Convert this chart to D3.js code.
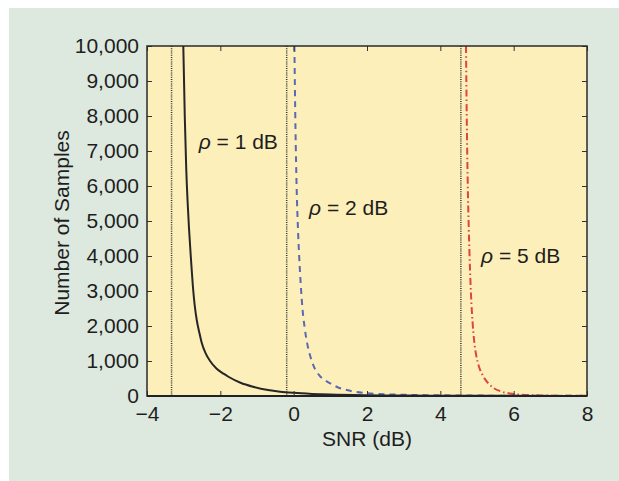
<!DOCTYPE html>
<html>
<head>
<meta charset="utf-8">
<script src="https://cdn.jsdelivr.net/npm/d3@7"></script>
<style>
  body { margin: 0; background: #fff; }
  svg { display: block; font-family: "Liberation Sans", Arial, sans-serif; }
</style>
</head>
<body>
<script>
// values
const snrBlack = [-3.01, -2.97, -2.93, -2.89, -2.855, -2.80, -2.75, -2.70, -2.64, -2.57, -2.51, -2.40, -2.28, -2.10, -1.90, -1.78, -1.45, -1.11, -0.70, -0.37, 0, 0.5, 1, 2, 3, 4, 6, 8]
const nBlack   = [10000, 8000, 6500, 5500, 4800, 3900, 3150, 2600, 2150, 1800, 1530, 1220, 1000, 780, 630, 550, 380, 266, 170, 123, 90, 60, 40, 20, 12, 8, 4, 2]

const snrBlue = [0.02, 0.05, 0.08, 0.12, 0.17, 0.24, 0.30, 0.36, 0.45, 0.54, 0.70, 0.85, 1.0, 1.2, 1.45, 1.7, 2.0, 2.5, 3, 4, 5, 6, 8]
const nBlue   = [10000, 7600, 6000, 4700, 3600, 2500, 1950, 1550, 1150, 870, 590, 450, 360, 250, 170, 115, 80, 50, 35, 20, 12, 8, 4]

const snrRed = [4.70, 4.72, 4.745, 4.775, 4.81, 4.85, 4.88, 4.92, 4.98, 5.05, 5.15, 5.31, 5.45, 5.67, 5.9, 6.22, 6.6, 7, 7.5, 8]
const nRed   = [10000, 8000, 6200, 4800, 3600, 2600, 2100, 1600, 1150, 850, 600, 360, 230, 125, 70, 35, 20, 12, 8, 5]

// SNR walls (dotted verticals)
const walls = [-3.33, -0.19, 4.56]
const rhoLabels = ['1', '2', '5']

const xTicks = [-4, -2, 0, 2, 4, 6, 8]
const yTicks = [0, 1000, 2000, 3000, 4000, 5000, 6000, 7000, 8000, 9000, 10000]

const W = 619, H = 481
const m = { left: 147, right: 587, top: 46, bottom: 396 }

const svg = d3.select('body').append('svg')
    .attr('width', W)
    .attr('height', H)

svg.append('rect')
    .attr('x', 9).attr('y', 8)
    .attr('width', W - 9).attr('height', H - 8)
    .attr('fill', '#dde9de')

const x = d3.scaleLinear().domain([-4, 8]).range([m.left, m.right])
const y = d3.scaleLinear().domain([0, 10000]).range([m.bottom, m.top])

svg.append('rect')
    .attr('x', m.left).attr('y', m.top)
    .attr('width', m.right - m.left).attr('height', m.bottom - m.top)
    .attr('fill', '#fcefb9')

svg.append('clipPath').attr('id', 'clip')
  .append('rect')
    .attr('x', m.left).attr('y', m.top)
    .attr('width', m.right - m.left).attr('height', m.bottom - m.top)

const g = svg.append('g').attr('clip-path', 'url(#clip)')

// dotted walls
g.selectAll('.wall')
  .data(walls)
  .enter()
  .append('line')
    .attr('x1', d => x(d)).attr('x2', d => x(d))
    .attr('y1', m.top).attr('y2', m.bottom)
    .attr('stroke', '#333')
    .attr('stroke-width', 1.5)
    .attr('stroke-dasharray', '1,1.2')

const line = d3.line()
    .x(d => x(d[0]))
    .y(d => y(d[1]))
    .curve(d3.curveMonotoneX)

const series = [
  { xs: snrRed, ys: nRed, color: '#e0453c', dash: '7,3,1.5,3' },
  { xs: snrBlue, ys: nBlue, color: '#5b69b5', dash: '6,5' },
  { xs: snrBlack, ys: nBlack, color: '#262626', dash: null }
]

series.forEach(function(s) {
  g.append('path')
      .attr('d', line(d3.zip(s.xs, s.ys)))
      .attr('fill', 'none')
      .attr('stroke', s.color)
      .attr('stroke-width', 2)
      .attr('stroke-dasharray', s.dash)
})

// axes with inward ticks
const fs = '21px'
const axLeft = svg.append('g')
    .attr('transform', `translate(${m.left},0)`)
    .call(d3.axisLeft(y).tickValues(yTicks).tickSize(-5).tickPadding(8).tickFormat(d3.format(',')))
const axBottom = svg.append('g')
    .attr('transform', `translate(0,${m.bottom})`)
    .call(d3.axisBottom(x).tickValues(xTicks).tickSize(-5).tickPadding(10))
const axRight = svg.append('g')
    .attr('transform', `translate(${m.right},0)`)
    .call(d3.axisRight(y).tickValues(yTicks).tickSize(-5).tickFormat(''))
const axTop = svg.append('g')
    .attr('transform', `translate(0,${m.top})`)
    .call(d3.axisTop(x).tickValues(xTicks).tickSize(-5).tickFormat(''))

;[axLeft, axBottom, axRight, axTop].forEach(function(a) {
  a.select('.domain').remove()
  a.selectAll('line').attr('stroke', '#333').attr('stroke-width', 1)
  a.selectAll('text').attr('font-size', fs).attr('fill', '#1e1e1e')
      .attr('font-family', '"Liberation Sans", Arial, sans-serif')
})

svg.append('rect')
    .attr('x', m.left).attr('y', m.top)
    .attr('width', m.right - m.left).attr('height', m.bottom - m.top)
    .attr('fill', 'none')
    .attr('stroke', '#2a2a2a')
    .attr('stroke-width', 1.5)

svg.append('line')
    .attr('x1', m.left).attr('x2', m.right)
    .attr('y1', m.bottom).attr('y2', m.bottom)
    .attr('stroke', '#222')
    .attr('stroke-width', 2)

// axis titles
svg.append('text')
    .attr('x', (m.left + m.right) / 2)
    .attr('y', 446)
    .attr('text-anchor', 'middle')
    .attr('font-size', fs)
    .attr('fill', '#1e1e1e')
    .text('SNR (dB)')

svg.append('text')
    .attr('transform', `translate(69,${(m.top + m.bottom) / 2 + 2}) rotate(-90)`)
    .attr('text-anchor', 'middle')
    .attr('font-size', fs)
    .attr('fill', '#1e1e1e')
    .text('Number of Samples')

// rho labels
const labelPos = [[-2.59, 7070], [0.42, 5170], [5.11, 3786]]
labelPos.forEach(function(p, i) {
  const t = svg.append('text')
      .attr('x', x(p[0]))
      .attr('y', y(p[1]))
      .attr('font-size', fs)
      .attr('fill', '#1e1e1e')
  t.append('tspan').attr('font-style', 'italic').text('ρ')
  t.append('tspan').text(' = ' + rhoLabels[i] + ' dB')
})
</script>
</body>
</html>
